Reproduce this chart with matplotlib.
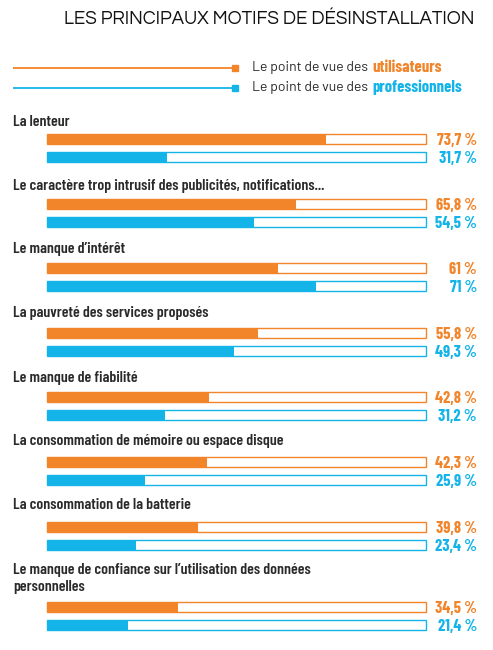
import matplotlib
matplotlib.use("Agg")
import matplotlib.pyplot as plt

categories = [
    "La lenteur",
    "Le caractère trop intrusif des publicités, notifications...",
    "Le manque d\u2019intérêt",
    "La pauvreté des services proposés",
    "Le manque de fiabilité",
    "La consommation de mémoire ou espace disque",
    "La consommation de la batterie",
    "Le manque de confiance sur l\u2019utilisation des données\npersonnelles",
]
utilisateurs = [73.7, 65.8, 61, 55.8, 42.8, 42.3, 39.8, 34.5]
professionnels = [31.7, 54.5, 71, 49.3, 31.2, 25.9, 23.4, 21.4]
legend_words = ["utilisateurs", "professionnels"]

ORANGE = "#F2842A"
BLUE = "#14B4E9"
DARK = "#2a2a2a"
COND = "Barlow Condensed"

W, H = 493, 650
fig = plt.figure(figsize=(W / 100, H / 100), dpi=100)
ax = fig.add_axes([0, 0, 1, 1])
px_per = 3.79
x0 = 47
ax.set_xlim(-x0 / px_per, (W - x0) / px_per)
ax.set_ylim(H, 0)
ax.axis("off")
renderer = fig.canvas.get_renderer()

def px2x(p):
    return (p - x0) / px_per

def width_px(t):
    return t.get_window_extent(renderer=renderer).width

def fit(t, target):
    w = width_px(t)
    t.set_fontsize(t.get_fontsize() * target / w)

orange_y = [139, 204, 268, 333, 397, 462, 527, 607]
label_y = [121.5, 186, 249, 313, 378, 441, 505, 570]
bh = 10.5
gap = 18

def fmt(v):
    return ("%g" % v).replace(".", ",") + "\u2009%"

probe = ax.text(0, 0, categories[1], fontsize=11, fontweight="semibold", family=COND)
fit(probe, 312)
lab_fs = probe.get_fontsize()
probe.remove()
val_fs = 11.8

for i, cat in enumerate(categories):
    yo = orange_y[i]
    yb = yo + gap
    multi = "\n" in cat
    ax.text(px2x(13), label_y[i] - (7 if multi else 0), cat, fontsize=lab_fs, fontweight="semibold",
            family=COND, color=DARK, va="top" if multi else "center",
            ha="left", linespacing=1.3)
    for y, v, c in ((yo, utilisateurs[i], ORANGE), (yb, professionnels[i], BLUE)):
        ax.barh(y, 100, height=bh, left=0, color="white", edgecolor=c, linewidth=1.0)
        ax.barh(y, v, height=bh, left=0, color=c, edgecolor="none")
        ax.text(px2x(477), y + 1.5, fmt(v), fontsize=val_fs, fontweight="bold",
                family=[COND, "DejaVu Sans"], color=c, ha="right", va="center")

# Title
t = ax.text(px2x(474), 19.5, "LES PRINCIPAUX MOTIFS DE DÉSINSTALLATION", fontsize=16,
            family="Questrial", color="#111111", ha="right", va="center")
fit(t, 409)

# Legend
for y, c, word in ((68, ORANGE, legend_words[0]), (88, BLUE, legend_words[1])):
    ax.plot([px2x(13), px2x(233)], [y, y], color=c, lw=1.3, solid_capstyle="butt")
    ax.plot([px2x(235)], [y], marker="s", ms=5, color=c, mec=c)
    t = ax.text(px2x(252), y, "Le point de vue des", fontsize=9.5, family="Barlow",
                color=DARK, ha="left", va="center")
    fit(t, 117)
    bb = t.get_window_extent(renderer=renderer)
    xend = ax.transData.inverted().transform((bb.x1, bb.y0))[0]
    ax.text(xend + 4 / px_per, y - 0.5, word, fontsize=12, family=COND, fontweight="bold",
            color=c, ha="left", va="center")

fig.savefig("out.png", dpi=100, facecolor="white")
